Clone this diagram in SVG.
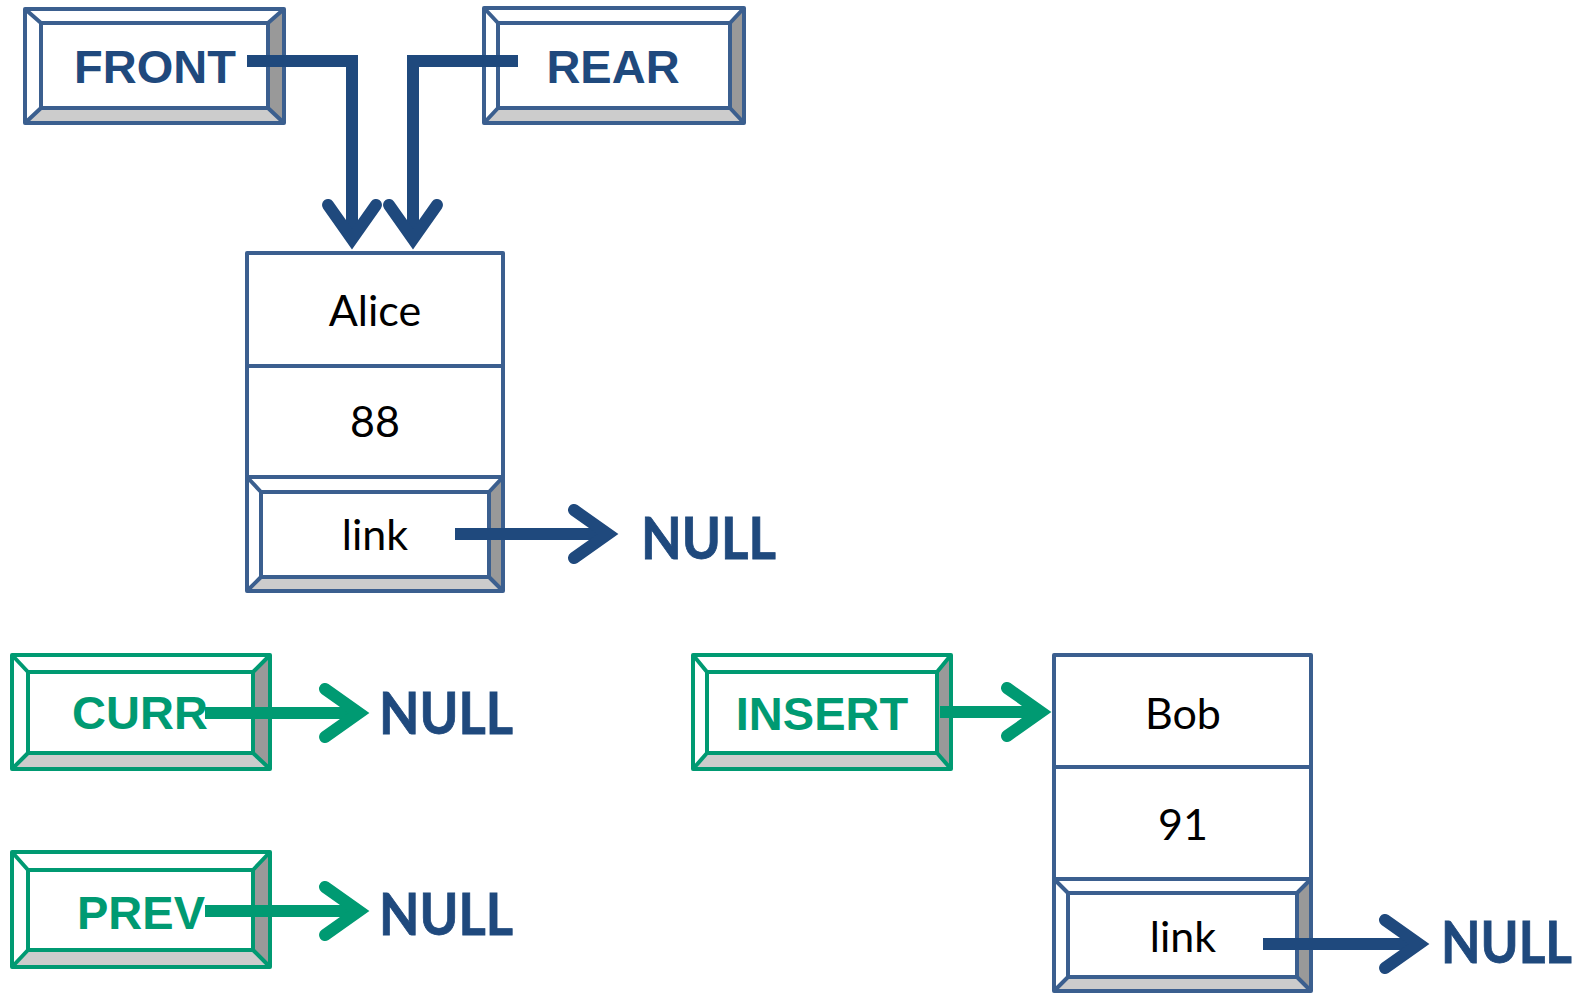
<svg xmlns="http://www.w3.org/2000/svg" width="1585" height="994" viewBox="0 0 1585 994">
  <style>
    .frame-b { fill: none; stroke: #3B5F8F; stroke-width: 4; stroke-linejoin: round; }
    .frame-g { fill: none; stroke: #009A72; stroke-width: 4; stroke-linejoin: round; }
    .face { fill: #FFFFFF; }
    .bev-r { fill: #999999; }
    .bev-b { fill: #CCCCCC; }
    .lbl-b { font-family: "Liberation Sans", Arial, sans-serif; font-weight: bold; font-size: 47px; fill: #1F497D; text-anchor: middle; }
    .lbl-g { font-family: "Liberation Sans", Arial, sans-serif; font-weight: bold; font-size: 47px; fill: #009A72; text-anchor: middle; }
    .cell { font-family: Lato, "Noto Sans", sans-serif; font-size: 43px; fill: #000000; text-anchor: middle; }
    .null { font-family: Lato, "Noto Sans", sans-serif; font-weight: bold; font-size: 58px; fill: #1F497D; stroke: #1F497D; stroke-width: 0.8; }
    .ptr-b { fill: none; stroke: #1F497D; stroke-width: 12; stroke-linejoin: miter; }
    .ptr-g { fill: none; stroke: #009A72; stroke-width: 12; stroke-linejoin: miter; }
  </style>
  <defs>
    <marker id="head-b" markerUnits="userSpaceOnUse" viewBox="-50 -35 70 70" refX="0" refY="0" markerWidth="70" markerHeight="70" orient="auto" overflow="visible">
      <path d="M-34,-24 L0,0 L-34,24" fill="none" stroke="#1F497D" stroke-width="12" stroke-linejoin="miter" stroke-linecap="round"/>
    </marker>
    <marker id="head-g" markerUnits="userSpaceOnUse" viewBox="-50 -35 70 70" refX="0" refY="0" markerWidth="70" markerHeight="70" orient="auto" overflow="visible">
      <path d="M-34,-24 L0,0 L-34,24" fill="none" stroke="#009A72" stroke-width="12" stroke-linejoin="miter" stroke-linecap="round"/>
    </marker>
  </defs>

  <!-- FRONT pointer -->
  <g id="front">
    <rect class="face" x="25" y="9" width="259" height="114"/>
    <polygon class="bev-r" points="284,9 284,123 268,108 268,23"/>
    <polygon class="bev-b" points="25,123 284,123 268,108 41,108"/>
    <rect class="frame-b" x="25" y="9" width="259" height="114"/>
    <rect class="frame-b" x="41" y="23" width="227" height="85"/>
    <path class="frame-b" d="M25,9 L41,23 M284,9 L268,23 M25,123 L41,108 M284,123 L268,108"/>
    <text class="lbl-b" x="155" y="83">FRONT</text>
  </g>

  <!-- REAR pointer -->
  <g id="rear">
    <rect class="face" x="484" y="8" width="260" height="115"/>
    <polygon class="bev-r" points="744,8 744,123 730,108 730,23"/>
    <polygon class="bev-b" points="484,123 744,123 730,108 498,108"/>
    <rect class="frame-b" x="484" y="8" width="260" height="115"/>
    <rect class="frame-b" x="498" y="23" width="232" height="85"/>
    <path class="frame-b" d="M484,8 L498,23 M744,8 L730,23 M484,123 L498,108 M744,123 L730,108"/>
    <text class="lbl-b" x="613" y="83">REAR</text>
  </g>

  <!-- Node: Alice / 88 / link -->
  <g id="node-alice">
    <rect class="face" x="247" y="253" width="256" height="338"/>
    <polygon class="bev-r" points="503,477 503,591 489,577 489,492"/>
    <polygon class="bev-b" points="247,591 503,591 489,577 261,577"/>
    <rect class="frame-b" x="247" y="253" width="256" height="338"/>
    <path class="frame-b" d="M247,366 H503 M247,477 H503"/>
    <rect class="frame-b" x="261" y="492" width="228" height="85"/>
    <path class="frame-b" d="M247,477 L261,492 M503,477 L489,492 M247,591 L261,577 M503,591 L489,577"/>
    <text class="cell" x="375" y="326">Alice</text>
    <text class="cell" x="375" y="437">88</text>
    <text class="cell" x="375" y="550">link</text>
  </g>

  <!-- CURR pointer -->
  <g id="curr">
    <rect class="face" x="12" y="655" width="258" height="114"/>
    <polygon class="bev-r" points="270,655 270,769 253,753 253,672"/>
    <polygon class="bev-b" points="12,769 270,769 253,753 28,753"/>
    <rect class="frame-g" x="12" y="655" width="258" height="114"/>
    <rect class="frame-g" x="28" y="672" width="225" height="81"/>
    <path class="frame-g" d="M12,655 L28,672 M270,655 L253,672 M12,769 L28,753 M270,769 L253,753"/>
    <text class="lbl-g" x="140" y="729">CURR</text>
  </g>

  <!-- PREV pointer -->
  <g id="prev">
    <rect class="face" x="12" y="852" width="258" height="115"/>
    <polygon class="bev-r" points="270,852 270,967 253,950 253,870"/>
    <polygon class="bev-b" points="12,967 270,967 253,950 28,950"/>
    <rect class="frame-g" x="12" y="852" width="258" height="115"/>
    <rect class="frame-g" x="28" y="870" width="225" height="80"/>
    <path class="frame-g" d="M12,852 L28,870 M270,852 L253,870 M12,967 L28,950 M270,967 L253,950"/>
    <text class="lbl-g" x="141" y="929">PREV</text>
  </g>

  <!-- INSERT pointer -->
  <g id="insert">
    <rect class="face" x="693" y="655" width="258" height="114"/>
    <polygon class="bev-r" points="951,655 951,769 937,753 937,672"/>
    <polygon class="bev-b" points="693,769 951,769 937,753 707,753"/>
    <rect class="frame-g" x="693" y="655" width="258" height="114"/>
    <rect class="frame-g" x="707" y="672" width="230" height="81"/>
    <path class="frame-g" d="M693,655 L707,672 M951,655 L937,672 M693,769 L707,753 M951,769 L937,753"/>
    <text class="lbl-g" x="822" y="730">INSERT</text>
  </g>

  <!-- Node: Bob / 91 / link -->
  <g id="node-bob">
    <rect class="face" x="1054" y="655" width="257" height="336"/>
    <polygon class="bev-r" points="1311,879 1311,991 1297,977 1297,893"/>
    <polygon class="bev-b" points="1054,991 1311,991 1297,977 1068,977"/>
    <rect class="frame-b" x="1054" y="655" width="257" height="336"/>
    <path class="frame-b" d="M1054,767 H1311 M1054,879 H1311"/>
    <rect class="frame-b" x="1068" y="893" width="229" height="84"/>
    <path class="frame-b" d="M1054,879 L1068,893 M1311,879 L1297,893 M1054,991 L1068,977 M1311,991 L1297,977"/>
    <text class="cell" x="1183" y="729">Bob</text>
    <text class="cell" x="1183" y="840">91</text>
    <text class="cell" x="1183" y="952">link</text>
  </g>

  <!-- NULL targets -->
  <g id="nulls">
    <text class="null" x="641" y="559" textLength="135" lengthAdjust="spacingAndGlyphs">NULL</text>
    <text class="null" x="379" y="734" textLength="134" lengthAdjust="spacingAndGlyphs">NULL</text>
    <text class="null" x="379" y="935" textLength="134" lengthAdjust="spacingAndGlyphs">NULL</text>
    <text class="null" x="1441" y="963" textLength="131" lengthAdjust="spacingAndGlyphs">NULL</text>
  </g>

  <!-- Connectors -->
  <g id="connectors">
    <polyline class="ptr-b" points="247,61 352,61 352,239" marker-end="url(#head-b)"/>
    <polyline class="ptr-b" points="518,61 413,61 413,239" marker-end="url(#head-b)"/>
    <line class="ptr-b" x1="455" y1="534" x2="608" y2="534" marker-end="url(#head-b)"/>
    <line class="ptr-g" x1="205" y1="713" x2="359" y2="713" marker-end="url(#head-g)"/>
    <line class="ptr-g" x1="205" y1="911" x2="359" y2="911" marker-end="url(#head-g)"/>
    <line class="ptr-g" x1="940" y1="712" x2="1041" y2="712" marker-end="url(#head-g)"/>
    <line class="ptr-b" x1="1263" y1="944" x2="1419" y2="944" marker-end="url(#head-b)"/>
  </g>
</svg>
